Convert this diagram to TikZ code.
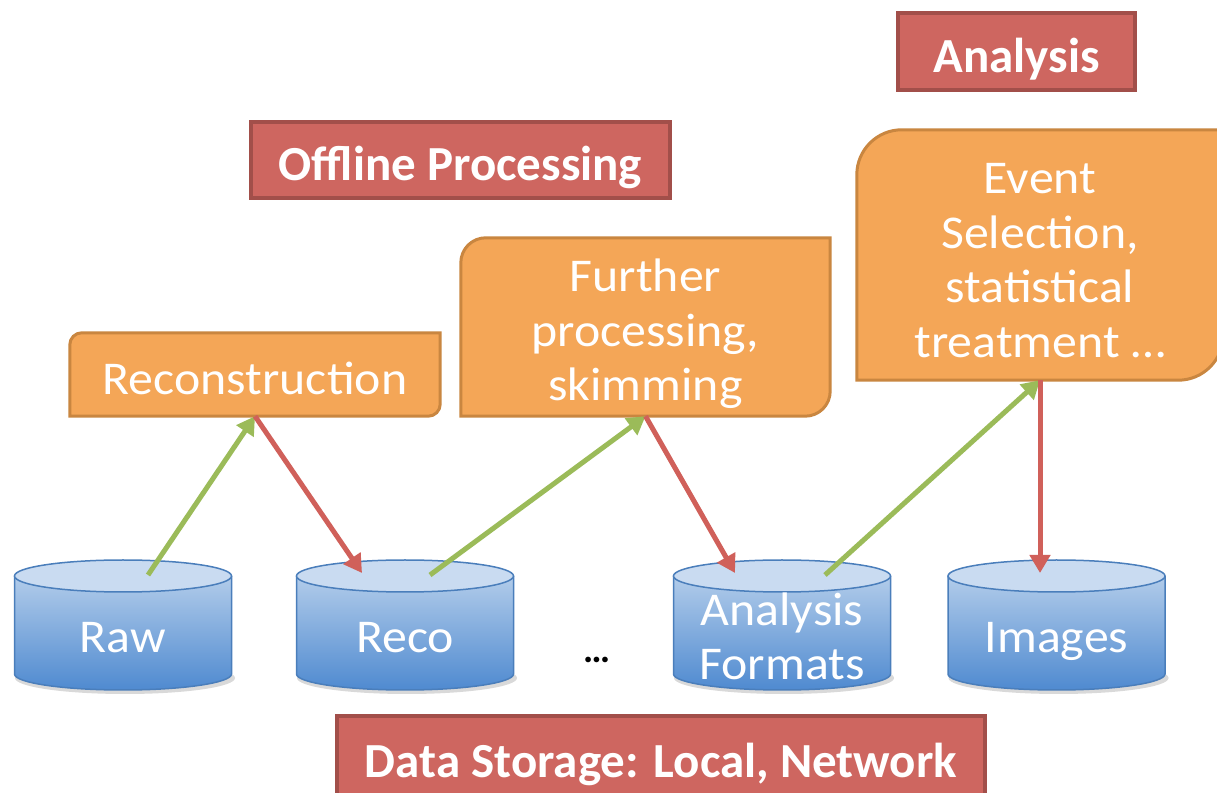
\documentclass[tikz,border=0pt]{standalone}
\usepackage{fontspec}
\setmainfont{Carlito}
\newfontfamily\widefont{Carlito}[FakeStretch=1.06]
\usetikzlibrary{arrows.meta,backgrounds,calc}
\definecolor{orFill}{HTML}{F4A657}
\definecolor{orLine}{HTML}{C98640}
\definecolor{rdFill}{HTML}{CE6660}
\definecolor{rdLine}{HTML}{A24F4A}
\definecolor{cyTop}{HTML}{C9DBF1}
\definecolor{cyBodyT}{HTML}{B2CCEA}
\definecolor{cyBodyB}{HTML}{4F8AD0}
\definecolor{cyLine}{HTML}{4A7EBB}
\definecolor{arGreen}{HTML}{9BBB59}
\definecolor{arRed}{HTML}{D0605A}
\tikzset{
  boxshape/.style={inner sep=0pt},
  boxtext/.style={inner sep=0pt, text=white, align=center,
    font=\widefont\fontsize{47}{54.5}\selectfont},
  obox/.style={fill=orFill, draw=orLine, line width=3pt},
  rlabel/.style={fill=rdFill, draw=rdLine, line width=4pt, inner sep=0pt,
    text height=44pt, text depth=2pt,
    text=white, font=\fontsize{49}{56}\selectfont\bfseries},
  cyltext/.style={inner sep=0pt, text=white, align=center,
    font=\widefont\fontsize{47}{54}\selectfont},
  garrow/.style={draw=arGreen, line width=5pt, -{Triangle[length=18pt,width=20pt]}},
  rarrow/.style={draw=arRed, line width=5pt, -{Triangle[length=18pt,width=20pt]}},
}
\newcommand\mycyl[1]{%
  \fill[black!15] (#1+2,114) ellipse[x radius=110, y radius=16];
  \shade[top color=cyBodyT, bottom color=cyBodyB]
    (#1-108.5,216) -- (#1-108.5,118)
    arc[start angle=180, end angle=360, x radius=108.5, y radius=16]
    -- (#1+108.5,216) -- cycle;
  \draw[cyLine, line width=1.5pt]
    (#1-108.5,216) -- (#1-108.5,118)
    arc[start angle=180, end angle=360, x radius=108.5, y radius=16]
    -- (#1+108.5,216);
  \filldraw[fill=cyTop, draw=cyLine, line width=1.5pt]
    (#1,216) ellipse[x radius=108.5, y radius=16];
}
\newcommand\myobox[2]{% node name, radius
  \draw[obox] (#1.south west) -- ([yshift=-#2]#1.north west)
    arc[start angle=180, end angle=90, radius=#2]
    -- (#1.north east) -- ([yshift=#2]#1.south east)
    arc[start angle=0, end angle=-90, radius=#2] -- cycle;
}
\begin{document}
\begin{tikzpicture}[x=1pt,y=1pt]
\useasboundingbox (0,0) rectangle (1217,792);
\clip (0,0) rectangle (1217,792);
\fill[white] (0,0) rectangle (1217,792);

% cylinders
\mycyl{123}
\mycyl{405}
\mycyl{782}
\mycyl{1056.5}
\node[cyltext] (raw) at (123,154) {Raw};
\node[cyltext] (reco) at (405,154) {Reco};
\node[cyltext] (af) at (782,156) {Analysis\\Formats};
\node[cyltext] (img) at (1056.5,151) {Images};
\node[inner sep=0pt, font=\fontsize{38}{40}\selectfont\bfseries] (dots) at (597,132) {…};

% orange boxes
\node[boxshape, minimum width=370pt, minimum height=83pt] (rec) at (255,417.5) {};
\myobox{rec}{12}
\node[boxtext] (rec-t) at (255,413.5) {Reconstruction};
\node[boxshape, minimum width=369pt, minimum height=178pt] (fur) at (645.5,465) {};
\myobox{fur}{25}
\node[boxtext] (fur-t) at (645.5,458) {Further\\processing,\\skimming};
\node[boxshape, minimum width=366pt, minimum height=250pt] (evt) at (1040,537) {};
\myobox{evt}{45}
\node[boxtext] (evt-t) at (1040,531.5) {Event\\Selection,\\statistical\\treatment …};

% red labels
\node[rlabel, minimum width=237pt, minimum height=77pt] (ana) at (1016.5,740.5) {Analysis};
\node[rlabel, minimum width=419pt, minimum height=76pt] (off) at (460.5,632) {Offline Processing};
\node[rlabel, minimum width=648pt, minimum height=80pt] (sto) at (661,36) {Data Storage: Local, Network};

% connectors
\coordinate (raw-o) at (148,217);
\coordinate (reco-i) at (362,219);
\coordinate (reco-o) at (430,217);
\coordinate (af-i) at (735,219);
\coordinate (af-o) at (825,217);
\coordinate (img-i) at (1040,219);
\draw[garrow] (raw-o) -- (rec.south);
\draw[rarrow] (rec.south) -- (reco-i);
\draw[garrow] (reco-o) -- (fur.south);
\draw[rarrow] (fur.south) -- (af-i);
\draw[garrow] (af-o) -- (evt.south);
\draw[rarrow] (evt.south) -- (img-i);
\end{tikzpicture}
\end{document}
